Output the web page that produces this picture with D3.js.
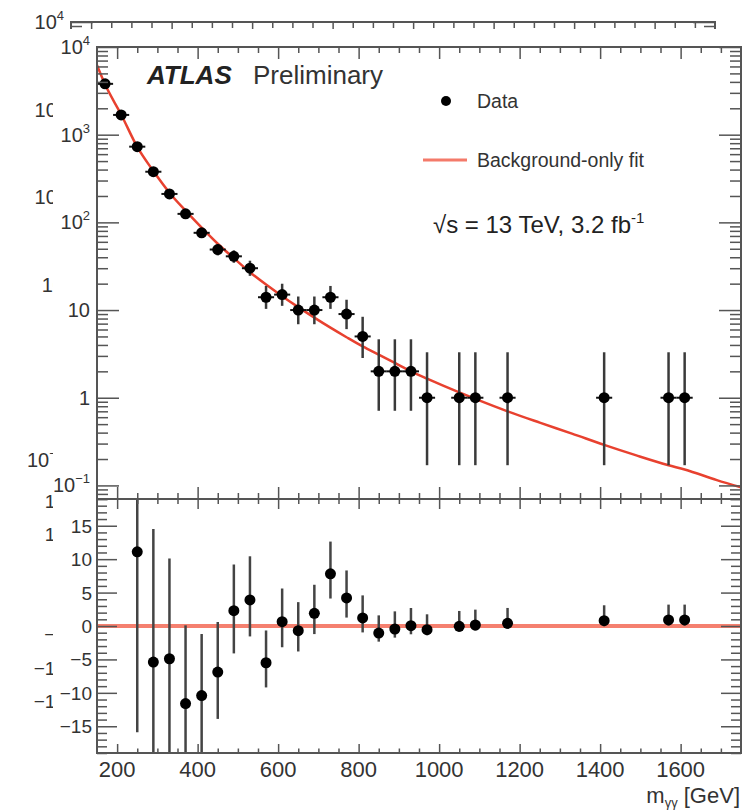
<!DOCTYPE html>
<html>
<head>
<meta charset="utf-8">
<script src="https://cdn.jsdelivr.net/npm/d3@7"></script>
<style>
  html, body { margin: 0; padding: 0; background: #fff; }
  svg { display: block; font-family: "Liberation Sans", Arial, Helvetica, sans-serif; }
</style>
</head>
<body>
<svg id="chart" width="749" height="812"></svg>
<script>
// ---- data ----
const binCenters  = [170, 210, 250, 290, 330, 370, 410, 450, 490, 530, 570, 610, 650, 690, 730, 770, 810, 850, 890, 930, 970, 1050, 1090, 1170, 1410, 1570, 1610];
const eventCounts = [3800, 1680, 730, 378, 211, 125, 76, 49, 41, 30, 14, 15, 10, 10, 14, 9, 5, 2, 2, 2, 1, 1, 1, 1, 1, 1, 1];
const errDown     = [61.6, 41, 27, 19.4, 14.5, 11.2, 8.7, 7.0, 6.4, 5.46, 3.69, 3.83, 3.11, 3.11, 3.69, 2.94, 2.16, 1.29, 1.29, 1.29, 0.83, 0.83, 0.83, 0.83, 0.83, 0.83, 0.83];
const errUp       = [62.1, 41.5, 27.5, 19.9, 15.0, 11.7, 9.2, 7.5, 6.9, 6.53, 4.83, 4.96, 4.27, 4.27, 4.83, 4.11, 3.38, 2.64, 2.64, 2.64, 2.30, 2.30, 2.30, 2.30, 2.30, 2.30, 2.30];

// data - fit (lower panel), same bins from 250 GeV on
const residMass    = [250, 290, 330, 370, 410, 450, 490, 530, 570, 610, 650, 690, 730, 770, 810, 850, 890, 930, 970, 1050, 1090, 1170, 1410, 1570, 1610];
const residuals    = [11.1, -5.4, -4.9, -11.6, -10.4, -6.9, 2.3, 3.9, -5.5, 0.65, -0.7, 1.9, 7.8, 4.2, 1.2, -1.05, -0.45, 0.05, -0.55, -0.05, 0.15, 0.4, 0.8, 0.9, 0.9];
const residErrDown = [27, 19.4, 14.5, 11.2, 8.7, 7.0, 6.4, 5.46, 3.69, 3.83, 3.11, 3.11, 3.69, 2.94, 2.16, 1.29, 1.29, 1.29, 0.83, 0.83, 0.83, 0.83, 0.83, 0.83, 0.83];
const residErrUp   = [27.5, 19.9, 15.0, 11.7, 9.2, 7.5, 6.9, 6.53, 4.83, 4.96, 4.27, 4.27, 4.83, 4.11, 3.38, 2.64, 2.64, 2.64, 2.30, 2.30, 2.30, 2.30, 2.30, 2.30, 2.30];

// background-only fit, sampled along the red curve
const fitMass   = [150, 170, 210, 250, 290, 330, 370, 410, 450, 490, 530, 570, 610, 650, 690, 730, 770, 810, 850, 890, 930, 970, 1050, 1090, 1170, 1250, 1330, 1410, 1490, 1570, 1610, 1690, 1750];
const fitValues = [6200, 3750, 1700, 725, 385, 218, 136, 87, 57, 39, 27, 19.5, 14.4, 10.8, 8.2, 6.3, 4.9, 3.85, 3.1, 2.5, 2.0, 1.65, 1.15, 0.97, 0.7, 0.52, 0.39, 0.29, 0.22, 0.17, 0.152, 0.115, 0.095];

const xTickValues   = [200, 400, 600, 800, 1000, 1200, 1400, 1600];
const logTickValues = [0.1, 1, 10, 100, 1000, 10000];
const logTickLabels = [["10", "−1"], ["1", ""], ["10", ""], ["10", "2"], ["10", "3"], ["10", "4"]];
const residTickValues = [-15, -10, -5, 0, 5, 10, 15];

// ---- layout ----
const W = 749, H = 812;
const left = 97, right = 741;
const upTop = 47, split = 499, lowBottom = 753;
const frameColor = '#555';
const textColor = '#333';

const x = d3.scaleLinear().domain([150, 1750]).range([left, right]);
const yUp = d3.scaleLog().domain([0.07, 1e4]).range([split, upTop]);
const yLow = d3.scaleLinear().domain([-19, 19]).range([lowBottom, split]);

// minor ticks
const xMinor = d3.range(200, 1750, 50).filter(v => v % 200 !== 0);
const logMinor = [];
for (let k = -2; k <= 3; k++) {
  for (let m = 2; m <= 9; m++) {
    const v = m * Math.pow(10, k);
    if (v >= 0.07 && v <= 1e4) logMinor.push(v);
  }
}
const residMinor = d3.range(-19, 20, 1).filter(v => v % 5 !== 0);

const svg = d3.select('#chart');

function ticks(g, axis, values, size) {
  g.call(axis.tickValues(values).tickSize(size).tickFormat(''));
  g.select('.domain').remove();
  g.selectAll('line').attr('stroke', frameColor).attr('stroke-width', 1.5);
}

// full = false draws only the frame, ticks and y labels (the offset copy)
function drawFigure(root, id, full) {
  const defs = root.append('defs');
  defs.append('clipPath').attr('id', id + 'clipUp')
    .append('rect').attr('x', left).attr('y', upTop).attr('width', right - left).attr('height', split - upTop);
  defs.append('clipPath').attr('id', id + 'clipLow')
    .append('rect').attr('x', left).attr('y', split).attr('width', right - left).attr('height', lowBottom - split);

  // ---------- upper panel ----------
  if (full) {
    const up = root.append('g').attr('clip-path', `url(#${id}clipUp)`);

    const fitLine = d3.line()
      .x((d, i) => x(fitMass[i]))
      .y(d => yUp(d))
      .curve(d3.curveMonotoneX);
    up.append('path')
      .datum(fitValues)
      .attr('d', fitLine)
      .attr('fill', 'none')
      .attr('stroke', '#e8412f')
      .attr('stroke-width', 2.5);

    const pts = binCenters.map((m, i) => ({ m, n: eventCounts[i], lo: errDown[i], hi: errUp[i] }));
    up.append('g').selectAll('line').data(pts).enter().append('line')
      .attr('x1', d => x(d.m)).attr('x2', d => x(d.m))
      .attr('y1', d => yUp(d.n + d.hi)).attr('y2', d => yUp(Math.max(d.n - d.lo, 0.01)))
      .attr('stroke', '#3a3a3a').attr('stroke-width', 2.5);
    up.append('g').selectAll('line').data(pts).enter().append('line')
      .attr('x1', d => x(d.m - 20)).attr('x2', d => x(d.m + 20))
      .attr('y1', d => yUp(d.n)).attr('y2', d => yUp(d.n))
      .attr('stroke', '#111').attr('stroke-width', 2);
    up.append('g').selectAll('circle').data(pts).enter().append('circle')
      .attr('cx', d => x(d.m)).attr('cy', d => yUp(d.n)).attr('r', 5.5)
      .attr('fill', '#000');
  }

  ticks(root.append('g').attr('transform', `translate(${left},0)`), d3.axisLeft(yUp), logTickValues, -22);
  ticks(root.append('g').attr('transform', `translate(${left},0)`), d3.axisLeft(yUp), logMinor, -11);
  ticks(root.append('g').attr('transform', `translate(${right},0)`), d3.axisRight(yUp), logTickValues, -22);
  ticks(root.append('g').attr('transform', `translate(${right},0)`), d3.axisRight(yUp), logMinor, -11);
  ticks(root.append('g').attr('transform', `translate(0,${upTop})`), d3.axisTop(x), xTickValues, -12);
  ticks(root.append('g').attr('transform', `translate(0,${upTop})`), d3.axisTop(x), xMinor, -6);
  ticks(root.append('g').attr('transform', `translate(0,${split})`), d3.axisBottom(x), xTickValues, -12);
  ticks(root.append('g').attr('transform', `translate(0,${split})`), d3.axisBottom(x), xMinor, -6);

  const upLab = root.append('g').attr('fill', textColor).attr('font-size', 20).attr('text-anchor', 'end');
  logTickValues.forEach((v, i) => {
    const t = upLab.append('text').attr('x', left - 7).attr('y', yUp(v) + 7);
    t.append('tspan').text(logTickLabels[i][0]);
    if (logTickLabels[i][1]) {
      t.append('tspan').attr('dy', -9).attr('font-size', 13).text(logTickLabels[i][1]);
    }
  });

  root.append('rect')
    .attr('x', left).attr('y', upTop).attr('width', right - left).attr('height', split - upTop)
    .attr('fill', 'none').attr('stroke', frameColor).attr('stroke-width', 2);

  if (full) {
    root.append('text').attr('x', 147).attr('y', 84)
      .attr('font-size', 26).attr('font-weight', 'bold').attr('font-style', 'italic')
      .attr('fill', '#222').text('ATLAS');
    root.append('text').attr('x', 253).attr('y', 84)
      .attr('font-size', 26).attr('fill', '#333').text('Preliminary');

    root.append('circle').attr('cx', 446).attr('cy', 101).attr('r', 5).attr('fill', '#000');
    root.append('text').attr('x', 477).attr('y', 108).attr('font-size', 19.5).attr('fill', textColor).text('Data');
    root.append('line').attr('x1', 423).attr('x2', 467).attr('y1', 160).attr('y2', 160)
      .attr('stroke', '#f47a6a').attr('stroke-width', 3);
    root.append('text').attr('x', 477).attr('y', 167).attr('font-size', 19.5).attr('fill', textColor).text('Background-only fit');

    const lumi = root.append('text').attr('x', 433).attr('y', 233).attr('font-size', 24).attr('fill', '#222');
    lumi.append('tspan').text('√s = 13 TeV, 3.2 fb');
    lumi.append('tspan').attr('dy', -10).attr('font-size', 15).text('-1');
  }

  // ---------- lower panel ----------
  if (full) {
    const low = root.append('g').attr('clip-path', `url(#${id}clipLow)`);
    low.append('line')
      .attr('x1', x(150)).attr('x2', x(1750))
      .attr('y1', yLow(0)).attr('y2', yLow(0))
      .attr('stroke', '#f5806f').attr('stroke-width', 4);

    const res = residMass.map((m, i) => ({ m, r: residuals[i], lo: residErrDown[i], hi: residErrUp[i] }));
    low.append('g').selectAll('line').data(res).enter().append('line')
      .attr('x1', d => x(d.m)).attr('x2', d => x(d.m))
      .attr('y1', d => yLow(d.r + d.hi)).attr('y2', d => yLow(d.r - d.lo))
      .attr('stroke', '#444').attr('stroke-width', 2.5);
    low.append('g').selectAll('circle').data(res).enter().append('circle')
      .attr('cx', d => x(d.m)).attr('cy', d => yLow(d.r)).attr('r', 5.5)
      .attr('fill', '#000');
  }

  ticks(root.append('g').attr('transform', `translate(${left},0)`), d3.axisLeft(yLow), residTickValues, -20);
  ticks(root.append('g').attr('transform', `translate(${left},0)`), d3.axisLeft(yLow), residMinor, -10);
  ticks(root.append('g').attr('transform', `translate(${right},0)`), d3.axisRight(yLow), residTickValues, -20);
  ticks(root.append('g').attr('transform', `translate(${right},0)`), d3.axisRight(yLow), residMinor, -10);
  ticks(root.append('g').attr('transform', `translate(0,${split})`), d3.axisTop(x), xTickValues, -10);
  ticks(root.append('g').attr('transform', `translate(0,${split})`), d3.axisTop(x), xMinor, -5);
  ticks(root.append('g').attr('transform', `translate(0,${lowBottom})`), d3.axisBottom(x), xTickValues, -9);
  ticks(root.append('g').attr('transform', `translate(0,${lowBottom})`), d3.axisBottom(x), xMinor, -4.5);

  const lowLab = root.append('g').attr('fill', textColor).attr('font-size', 19).attr('text-anchor', 'end');
  residTickValues.forEach(v => {
    lowLab.append('text').attr('x', left - 5).attr('y', yLow(v) + 7)
      .text(v < 0 ? '−' + Math.abs(v) : String(v));
  });

  root.append('rect')
    .attr('x', left).attr('y', split).attr('width', right - left).attr('height', lowBottom - split)
    .attr('fill', 'none').attr('stroke', frameColor).attr('stroke-width', 2);

  if (full) {
    const xLab = root.append('g').attr('fill', textColor).attr('font-size', 22).attr('text-anchor', 'middle');
    xTickValues.forEach(v => {
      xLab.append('text').attr('x', x(v)).attr('y', lowBottom + 24).text(v);
    });
    const xt = root.append('text').attr('x', right - 1).attr('y', 803)
      .attr('text-anchor', 'end').attr('font-size', 22).attr('fill', textColor);
    xt.append('tspan').text('m');
    xt.append('tspan').attr('dy', 4).attr('font-size', 13).text('γγ');
    xt.append('tspan').attr('dy', -4).text(' [GeV]');
  }
}

// offset copy behind the figure, as in the reference scan
drawFigure(svg.append('g').attr('transform', 'translate(-26,-25)'), 'ghost', false);
svg.append('rect').attr('x', 53).attr('y', 29).attr('width', W - 53).attr('height', H - 29).attr('fill', '#fff');
drawFigure(svg.append('g'), 'main', true);
</script>
</body>
</html>
